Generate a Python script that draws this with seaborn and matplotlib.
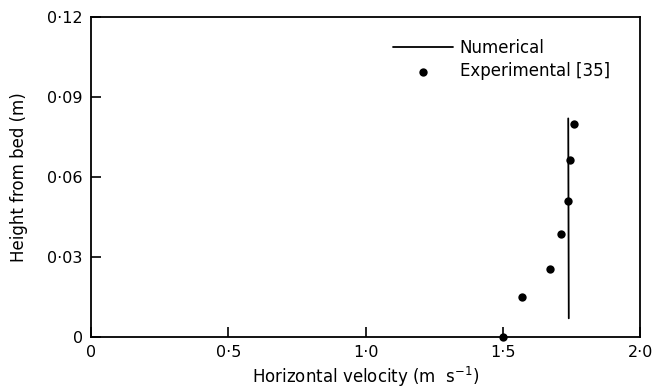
import matplotlib
matplotlib.use("Agg")
import matplotlib.pyplot as plt
import seaborn as sns
import pandas as pd

# Experimental data [35]
exp_velocity = [1.50, 1.57, 1.67, 1.71, 1.735, 1.742, 1.757]
exp_height = [0.0, 0.015, 0.0255, 0.0385, 0.051, 0.0665, 0.080]

# Numerical profile
num_velocity = [1.739, 1.738, 1.737]
num_height = [0.007, 0.045, 0.082]

x_ticks = [0, 0.5, 1.0, 1.5, 2.0]
x_ticklabels = ["0", "0·5", "1·0", "1·5", "2·0"]
y_ticks = [0, 0.03, 0.06, 0.09, 0.12]
y_ticklabels = ["0", "0·03", "0·06", "0·09", "0·12"]

sns.set_style("ticks")
plt.rcParams["font.family"] = ["DejaVu Sans"]
plt.rcParams["text.color"] = "black"
plt.rcParams["axes.labelcolor"] = "black"

fig = plt.figure(figsize=(6.62, 3.9), dpi=100)
ax = fig.add_axes([0.1375, 0.136, 0.83, 0.82])

num_df = pd.DataFrame({"v": num_velocity, "h": num_height})
exp_df = pd.DataFrame({"v": exp_velocity, "h": exp_height})

sns.lineplot(data=num_df, x="v", y="h", ax=ax, color="black", lw=1.3,
             sort=False, estimator=None, label="Numerical")
sns.scatterplot(data=exp_df, x="v", y="h", ax=ax, color="black", s=36,
                edgecolor="black", linewidth=0, label="Experimental [35]",
                zorder=5, clip_on=False)

ax.set_xlim(0, 2.0)
ax.set_ylim(0, 0.12)
ax.set_xticks(x_ticks)
ax.set_xticklabels(x_ticklabels)
ax.set_yticks(y_ticks)
ax.set_yticklabels(y_ticklabels)
ax.tick_params(direction="in", length=7, width=1.2, colors="black",
               labelsize=11.5, top=False, right=False)
ax.tick_params(axis="x", pad=6)
ax.tick_params(axis="y", pad=6)
for s in ax.spines.values():
    s.set_visible(True)
    s.set_color("black")
    s.set_linewidth(1.3)

ax.set_xlabel("Horizontal velocity (m  s$^{-1}$)", fontsize=12, labelpad=3)
ax.set_ylabel("Height from bed (m)", fontsize=12, labelpad=14)

leg = ax.legend(loc="upper left", bbox_to_anchor=(0.522, 0.98), frameon=False,
                fontsize=12, handlelength=3.6, handletextpad=0.4,
                labelspacing=0.35)
for t in leg.get_texts():
    t.set_color("black")

fig.savefig("out.png", dpi=100)
